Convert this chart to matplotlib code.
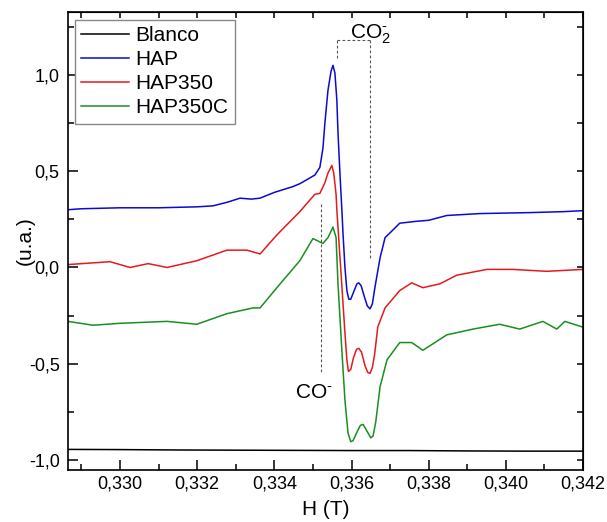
import matplotlib
matplotlib.use("Agg")
import matplotlib.pyplot as plt
from matplotlib.ticker import MultipleLocator

plt.rcParams['font.family'] = ['Liberation Sans', 'DejaVu Sans']
plt.rcParams['mathtext.fontset'] = 'custom'
plt.rcParams['mathtext.rm'] = 'Liberation Sans'
plt.rcParams['mathtext.it'] = 'Liberation Sans'

# ---------------- data ----------------
blanco_x = [0.32865, 0.3300, 0.3315, 0.3330, 0.3345, 0.3360, 0.3375, 0.3390, 0.3405, 0.3420]
blanco_y = [-0.945, -0.946, -0.948, -0.949, -0.950, -0.951, -0.951, -0.953, -0.954, -0.954]

hap_x = [0.32865, 0.32900, 0.33000, 0.33100, 0.33200, 0.33241, 0.33280, 0.33311, 0.33340,
         0.33363, 0.33400, 0.33448, 0.33466, 0.33505, 0.33518, 0.33526, 0.33531, 0.33539,
         0.33547, 0.33552, 0.33557, 0.33562, 0.33565, 0.33570, 0.33575, 0.33578, 0.33583,
         0.33588, 0.33593, 0.33598, 0.33607, 0.33614, 0.33619, 0.33625, 0.33633, 0.33641,
         0.33648, 0.33654, 0.33661, 0.33674, 0.33687, 0.33705, 0.33725, 0.33769, 0.33800,
         0.33847, 0.33933, 0.34062, 0.34150, 0.34200]
hap_y = [0.30, 0.305, 0.31, 0.31, 0.315, 0.32, 0.34, 0.36, 0.355,
         0.36, 0.39, 0.42, 0.435, 0.48, 0.52, 0.62, 0.75, 0.92,
         1.02, 1.05, 1.01, 0.87, 0.70, 0.49, 0.30, 0.175, 0.00,
         -0.12, -0.165, -0.165, -0.12, -0.085, -0.08, -0.095, -0.15, -0.20,
         -0.215, -0.19, -0.10, 0.05, 0.155, 0.19, 0.23, 0.24, 0.245,
         0.27, 0.28, 0.285, 0.29, 0.295]

hap350_x = [0.32865, 0.32974, 0.33026, 0.33073, 0.33122, 0.33199, 0.33277, 0.33329, 0.33363,
            0.33407, 0.33466, 0.33505, 0.33518, 0.33531, 0.33539, 0.33549, 0.33554, 0.33560,
            0.33562, 0.33583, 0.33588, 0.33592, 0.33598, 0.33605, 0.33613, 0.33619, 0.33626,
            0.33635, 0.33642, 0.33648, 0.33654, 0.33660, 0.33668, 0.33687, 0.33725, 0.33756,
            0.33785, 0.33829, 0.33873, 0.33951, 0.34018, 0.34106, 0.34200]
hap350_y = [0.015, 0.03, 0.00, 0.02, 0.00, 0.035, 0.09, 0.09, 0.07,
            0.17, 0.29, 0.38, 0.385, 0.44, 0.49, 0.53, 0.49, 0.38,
            0.30, -0.34, -0.48, -0.54, -0.53, -0.47, -0.425, -0.42, -0.44,
            -0.51, -0.545, -0.55, -0.52, -0.45, -0.31, -0.21, -0.12, -0.08,
            -0.105, -0.085, -0.04, -0.01, -0.01, -0.02, -0.01]

hap350c_x = [0.32865, 0.32930, 0.33000, 0.33122, 0.33199, 0.33277, 0.33345, 0.33363, 0.33415,
             0.33466, 0.33500, 0.33526, 0.33539, 0.33552, 0.33560, 0.33565, 0.33575, 0.33583,
             0.33591, 0.33598, 0.33604, 0.33613, 0.33623, 0.33630, 0.33640, 0.33650, 0.33656,
             0.33663, 0.33674, 0.33692, 0.33725, 0.33756, 0.33785, 0.33847, 0.33915, 0.33984,
             0.34036, 0.34096, 0.34132, 0.34153, 0.34200]
hap350c_y = [-0.28, -0.30, -0.29, -0.28, -0.295, -0.24, -0.21, -0.21, -0.085,
             0.035, 0.15, 0.125, 0.155, 0.21, 0.155, -0.085, -0.43, -0.69,
             -0.86, -0.905, -0.90, -0.86, -0.82, -0.815, -0.85, -0.885, -0.875,
             -0.80, -0.62, -0.48, -0.39, -0.39, -0.43, -0.35, -0.32, -0.295,
             -0.32, -0.28, -0.32, -0.28, -0.31]

series_names = ['Blanco', 'HAP', 'HAP350', 'HAP350C']
series_colors = ['#000000', '#0a0ad2', '#e41a1c', '#17901f']

xtick_values = [0.330, 0.332, 0.334, 0.336, 0.338, 0.340, 0.342]
xtick_labels = ['0,330', '0,332', '0,334', '0,336', '0,338', '0,340', '0,342']
ytick_values = [-1.0, -0.5, 0.0, 0.5, 1.0]
ytick_labels = ['-1,0', '-0,5', '0,0', '0,5', '1,0']

# annotation guide lines (data coords)
co2_left_x, co2_right_x = 0.33562, 0.33648
co2_top_y, co2_left_bottom_y, co2_right_bottom_y = 1.181, 1.088, 0.05
co_x, co_top_y, co_bottom_y = 0.33521, 0.33, -0.55

# ---------------- figure ----------------
fig = plt.figure(figsize=(6.07, 5.22), dpi=100)
ax = fig.add_axes([68/607, 52/522, 515/607, 458/522])

xs = [blanco_x, hap_x, hap350_x, hap350c_x]
ys = [blanco_y, hap_y, hap350_y, hap350c_y]
for x, y, name, c in zip(xs, ys, series_names, series_colors):
    ax.plot(x, y, color=c, lw=1.1, label=name, solid_joinstyle='round')

dash = dict(color='#555555', lw=0.8, linestyle=(0, (2.5, 2)))
ax.plot([co2_left_x, co2_left_x], [co2_left_bottom_y, co2_top_y], **dash)
ax.plot([co2_left_x, co2_right_x], [co2_top_y, co2_top_y], **dash)
ax.plot([co2_right_x, co2_right_x], [co2_top_y, co2_right_bottom_y], **dash)
ax.plot([co_x, co_x], [co_top_y, co_bottom_y], **dash)

ax.text(0.33596, 1.19, r'CO$_2^{\text{-}}$', fontsize=15, ha='left', va='baseline')
ax.text(0.33453, -0.68, r'CO$^{\text{-}}$', fontsize=15, ha='left', va='baseline')

ax.set_xlim(0.328652, 0.342)
ax.set_ylim(-1.052, 1.327)

ax.set_xticks(xtick_values, xtick_labels)
ax.set_yticks(ytick_values, ytick_labels)
ax.xaxis.set_minor_locator(MultipleLocator(0.001))
ax.yaxis.set_minor_locator(MultipleLocator(0.25))
ax.tick_params(which='major', direction='in', length=7, width=1.1, labelsize=13)
ax.tick_params(axis='x', which='major', pad=4)
ax.tick_params(axis='y', which='major', pad=6)
ax.tick_params(which='minor', direction='in', length=4, width=1.1)

for s in ax.spines.values():
    s.set_linewidth(1.2)

secx = ax.secondary_xaxis('top')
secx.xaxis.set_major_locator(MultipleLocator(0.001))
secx.tick_params(direction='in', length=4, width=1.1, labeltop=False)
secy = ax.secondary_yaxis('right')
secy.yaxis.set_major_locator(MultipleLocator(0.25))
secy.tick_params(direction='in', length=4, width=1.1, labelright=False)

ax.set_xlabel('H (T)', fontsize=15)
ax.set_ylabel('(u.a.)', fontsize=15)
ax.xaxis.set_label_coords(0.5, -0.066)
ax.yaxis.set_label_coords(-0.064, 0.5)

leg = ax.legend(loc='upper left', bbox_to_anchor=(0.0136, 0.9825), borderaxespad=0,
                fontsize=15, frameon=True, fancybox=False, framealpha=1,
                edgecolor='#888888', handlelength=2.3, handletextpad=0.3,
                labelspacing=0.24, borderpad=0.3)
leg.get_frame().set_linewidth(1.0)

fig.savefig('out.png', dpi=100)
